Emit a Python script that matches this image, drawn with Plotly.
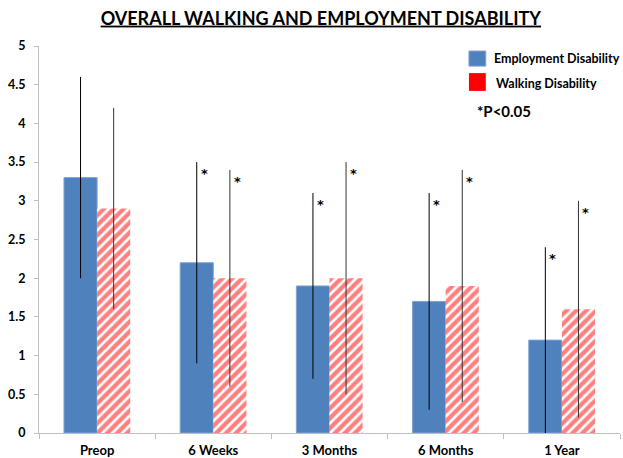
import plotly.graph_objects as go

categories = ["Preop", "6 Weeks", "3 Months", "6 Months", "1 Year"]
employment = [3.3, 2.2, 1.9, 1.7, 1.2]
employment_err = [1.3, 1.3, 1.2, 1.4, 1.2]
walking = [2.9, 2.0, 2.0, 1.9, 1.6]
walking_err = [1.3, 1.4, 1.5, 1.5, 1.4]
employment_sig = [False, True, True, True, True]
walking_sig = [False, True, True, True, True]
y_ticks = [0, 0.5, 1, 1.5, 2, 2.5, 3, 3.5, 4, 4.5, 5]

FONT = "Lato"
STAR_FONT = "DejaVu Sans"

fig = go.Figure()
fig.add_trace(go.Bar(
    name="Employment Disability", x=categories, y=employment,
    marker=dict(color="#4F81BD", line=dict(color="#7FA3D3", width=1)),
    error_y=dict(type="data", array=employment_err, color="black", thickness=1, width=0),
    showlegend=False,
))
fig.add_trace(go.Bar(
    name="Walking Disability", x=categories, y=walking,
    marker=dict(color="white", line=dict(color="white", width=0),
                pattern=dict(shape="/", fgcolor="#FF0000", bgcolor="white", size=7, solidity=0.62)),
    error_y=dict(type="data", array=walking_err, color="#333333", thickness=1, width=0),
    showlegend=False,
))

for cat, v, e, s in zip(categories, employment, employment_err, employment_sig):
    if s:
        fig.add_annotation(x=cat, y=v + e - 0.15, text="<b>*</b>", showarrow=False, xshift=-9,
                           font=dict(family=STAR_FONT, size=13, color="black"), xanchor="center", yanchor="middle")
for cat, v, e, s in zip(categories, walking, walking_err, walking_sig):
    if s:
        fig.add_annotation(x=cat, y=v + e - 0.15, text="<b>*</b>", showarrow=False, xshift=24,
                           font=dict(family=STAR_FONT, size=13, color="black"), xanchor="center", yanchor="middle")

# legend (drawn manually to match the reference placement)
fig.add_shape(type="rect", xref="paper", yref="paper", x0=0.740, x1=0.769, y0=0.948, y1=0.987,
              fillcolor="#4F81BD", line=dict(color="#7FA3D3", width=1))
fig.add_shape(type="rect", xref="paper", yref="paper", x0=0.740, x1=0.769, y0=0.884, y1=0.930,
              fillcolor="#FF0000", line=dict(width=0))
fig.add_annotation(xref="paper", yref="paper", x=0.780, y=0.968, text="<b>Employment Disability</b>",
                   showarrow=False, xanchor="left", yanchor="middle", font=dict(family=FONT, size=12.5, color="black"))
fig.add_annotation(xref="paper", yref="paper", x=0.783, y=0.902, text="<b>Walking Disability</b>",
                   showarrow=False, xanchor="left", yanchor="middle", font=dict(family=FONT, size=12.5, color="black"))
fig.add_annotation(xref="paper", yref="paper", x=0.750, y=0.832, text="<b>*P<0.05</b>",
                   showarrow=False, xanchor="left", yanchor="middle", font=dict(family=FONT, size=15, color="black"))

fig.update_layout(
    width=623, height=458,
    margin=dict(l=39, r=3, t=46, b=25),
    paper_bgcolor="white", plot_bgcolor="white",
    barmode="group", bargap=0.43, bargroupgap=0,
    title=dict(text="<b><u>OVERALL WALKING AND EMPLOYMENT DISABILITY</u></b>", x=0.515, xanchor="center",
               y=0.96, yanchor="middle", font=dict(family=FONT, size=18, color="black")),
    font=dict(family=FONT, color="black"),
)
fig.update_xaxes(showline=True, linecolor="#BFBFBF", linewidth=1, ticks="outside", tickson="boundaries",
                 ticklen=5, tickcolor="#BFBFBF", tickfont=dict(family=FONT, size=13, color="black"),
                 tickprefix="<b>", ticksuffix="</b>", showgrid=False, automargin=False, ticklabelstandoff=5)
fig.update_yaxes(range=[0, 5], tickvals=y_ticks, ticktext=[f"<b>{t:g}</b>" for t in y_ticks],
                 showline=True, linecolor="#BFBFBF", linewidth=1, ticks="outside", ticklen=4,
                 tickcolor="#BFBFBF", tickfont=dict(family=FONT, size=12.5, color="black"),
                 showgrid=False, zeroline=False, ticklabelstandoff=6, automargin=False)

fig.write_html("out.html", config={"displayModeBar": False},
               post_script="document.body.style.margin='0';")
